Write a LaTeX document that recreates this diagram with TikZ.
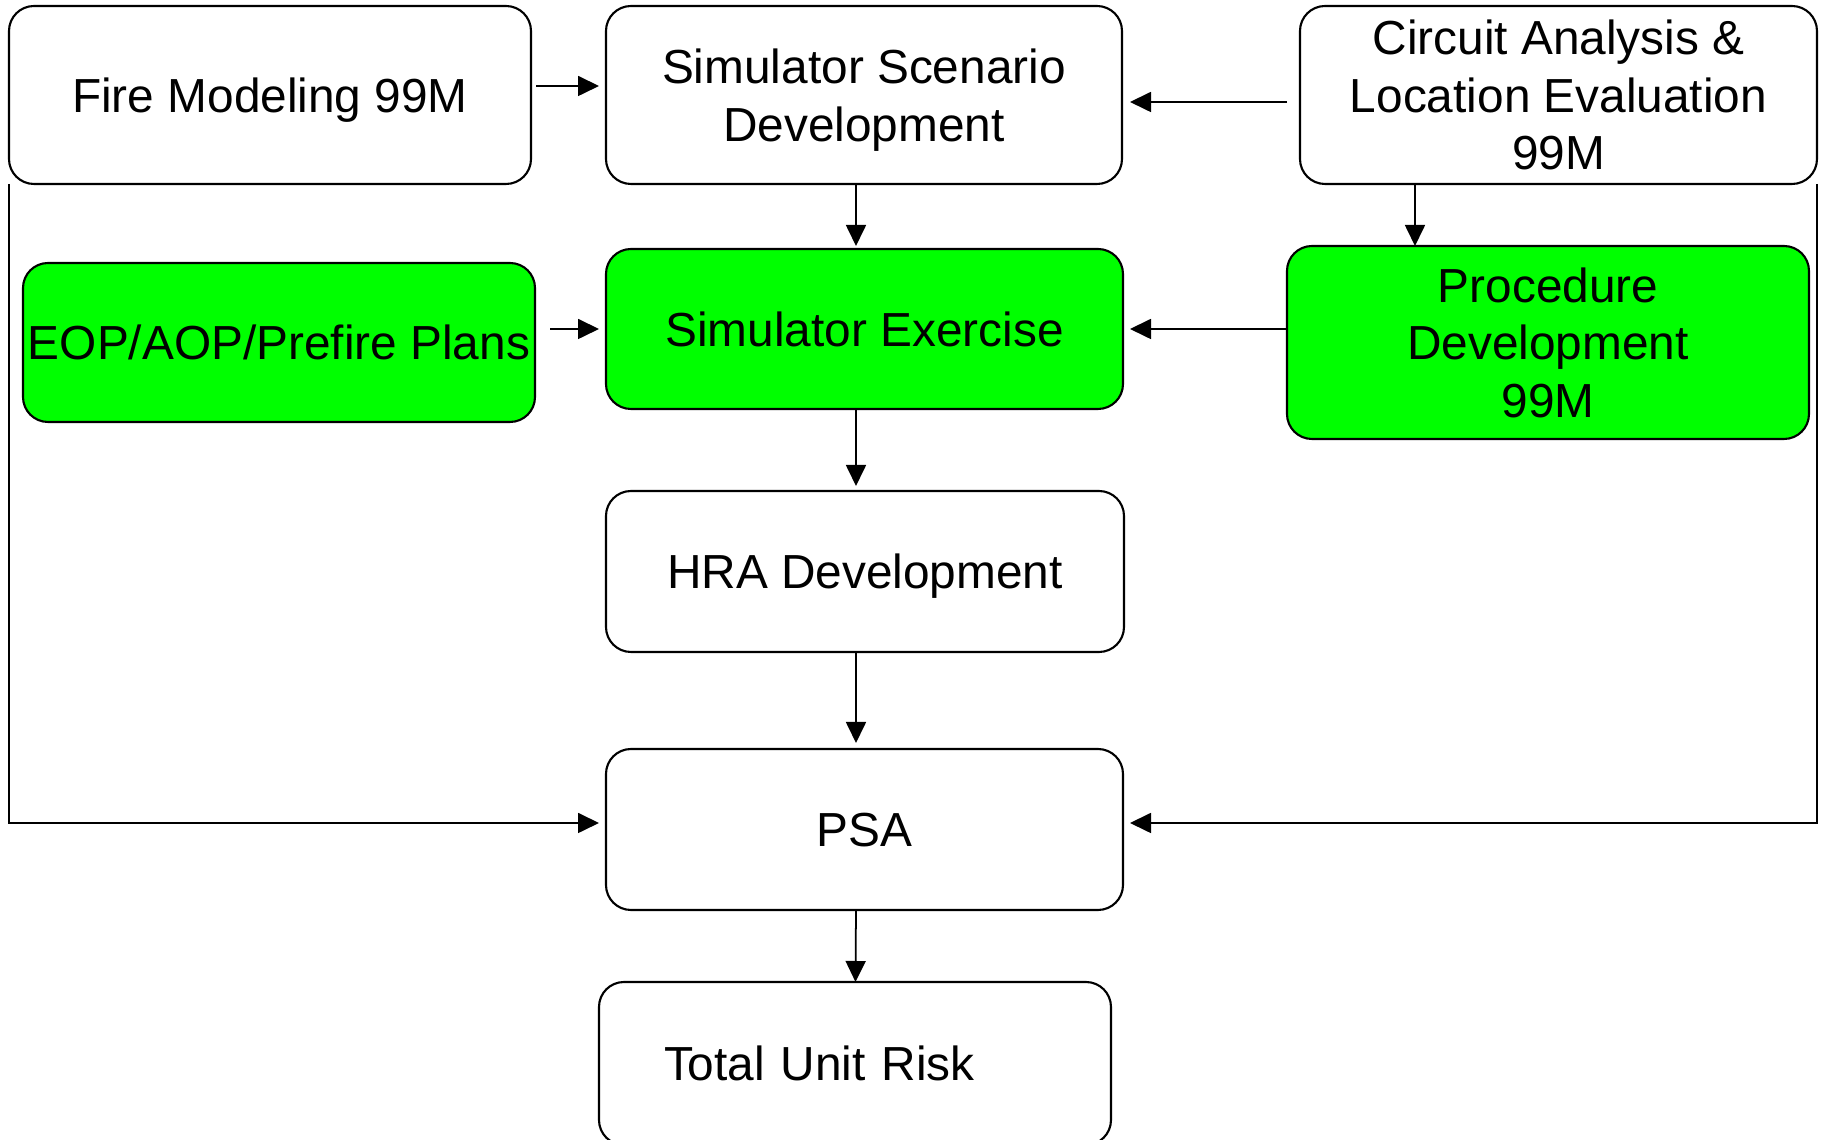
\documentclass[tikz,border=0pt]{standalone}
\usepackage{fontspec}
\setmainfont{Liberation Sans}
\usetikzlibrary{arrows.meta}
\definecolor{simgreen}{RGB}{0,255,0}

\begin{document}
\begin{tikzpicture}[inner sep=0pt,outer sep=0pt,line width=0.5pt,
  font=\fontsize{13.6}{16.4}\selectfont,
  >={Triangle[length=0.21cm,width=0.2cm]},
  stepbox/.style={draw,rectangle,rounded corners=0.25cm,align=center,text depth=0pt,minimum width=5.17cm,minimum height=1.6cm,line width=0.6pt},
  greenbox/.style={stepbox,fill=simgreen}]
\useasboundingbox (0,0) rectangle (18.23,11.40);

\draw (2.70,10.45) node[stepbox,minimum width=5.22cm,minimum height=1.78cm] (fire) {Fire Modeling 99M};
\draw (8.64,10.45) node[stepbox,minimum width=5.16cm,minimum height=1.78cm] (ssd) {Simulator Scenario\\Development};
\draw (15.585,10.45) node[stepbox,minimum height=1.78cm] (cae) {Circuit Analysis \&\\Location Evaluation\\99M};
\draw (2.79,7.975) node[greenbox,minimum width=5.12cm,minimum height=1.59cm] (eop) {EOP/AOP/Prefire Plans};
\draw (8.645,8.11) node[greenbox] (simex) {Simulator Exercise};
\draw (15.48,7.975) node[greenbox,minimum width=5.22cm,minimum height=1.93cm] (proc) {Procedure\\Development\\99M};
\draw (8.65,5.685) node[stepbox,minimum width=5.18cm,minimum height=1.61cm] (hra) {HRA Development};
\draw (8.645,3.105) node[stepbox,minimum height=1.61cm] (psa) {PSA};
\draw (8.55,0.765) node[stepbox,minimum width=5.12cm,minimum height=1.63cm,align=left,text width=3.82cm,inner xsep=0.65cm] (tur) {Total Unit Risk};

% top row
\draw[->,shorten <=0.05cm,shorten >=0.07cm] ([yshift=0.09cm]fire.east) -- ([yshift=0.09cm]ssd.west);
\draw[->,shorten <=0.13cm,shorten >=0.08cm] ([yshift=-0.07cm]cae.west) -- ([yshift=-0.07cm]ssd.east);
\draw[->,shorten >=0.03cm] ([xshift=-0.08cm]ssd.south) -- ([xshift=-0.085cm]simex.north);
\draw[->] ([xshift=1.15cm]cae.south west) -- ([xshift=1.15cm]cae.south west |- proc.north);

% middle row
\draw[->,shorten <=0.15cm,shorten >=0.07cm] (eop.east |- simex.west) -- (simex.west);
\draw[->,shorten >=0.07cm] (proc.west |- simex.east) -- (simex.east);
\draw[->,shorten >=0.05cm] ([xshift=-0.085cm]simex.south) -- ([xshift=-0.09cm]hra.north);
\draw[->,shorten >=0.06cm] ([xshift=-0.09cm]hra.south) -- ([xshift=-0.085cm]psa.north);
\draw[->] ([xshift=-0.085cm]psa.south) -- ([xshift=0.005cm]tur.north);

% side feeds into PSA
\draw[->,shorten >=0.07cm] (fire.south west) |- ([yshift=0.065cm]psa.west);
\draw[->,shorten >=0.07cm] (cae.south east) |- ([yshift=0.065cm]psa.east);
\end{tikzpicture}
\end{document}
